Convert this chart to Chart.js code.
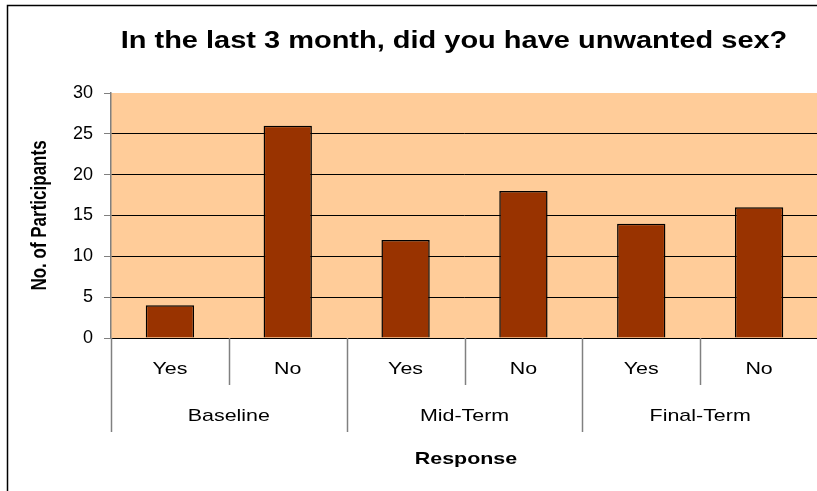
<!DOCTYPE html>
<html>
<head>
<meta charset="utf-8">
<script src="https://cdn.jsdelivr.net/npm/chart.js@4/dist/chart.umd.min.js"></script>
<style>
  html, body { margin: 0; padding: 0; background: #fff; overflow: hidden; }
  #wrap { position: absolute; left: 0; top: 0; width: 817px; height: 491px; overflow: hidden; }
  canvas { position: absolute; left: 0; top: 0; }
</style>
</head>
<body>
<div id="wrap"><canvas id="unwantedChart" width="820" height="491"></canvas></div>
<script>
    // Data
    const groups = ['Baseline', 'Mid-Term', 'Final-Term'];
    const responses = ['Yes', 'No'];
    const participants = [4, 26, 12, 18, 14, 16];
    const yTicks = [0, 5, 10, 15, 20, 25, 30];

    const titleText = 'In the last 3 month, did you have unwanted sex?';
    const yTitle = 'No. of Participants';
    const xTitle = 'Response';

    const labels = [];
    groups.forEach(g => responses.forEach(r => labels.push([r, g])));

    const FONT = '"Liberation Sans", Arial, sans-serif';
    const SX = 1.26; // the original text is a bit wider than tall

    function wideText(ctx, text, x, y) {
        ctx.save();
        ctx.translate(x, y);
        ctx.scale(SX, 1);
        ctx.fillText(text, 0, 0);
        ctx.restore();
    }

    // plot background, border, multi-level axis, titles
    const decorPlugin = {
        id: 'decor',
        beforeDraw(chart) {
            const { ctx, chartArea } = chart;
            ctx.save();
            ctx.fillStyle = '#FFCC99';
            ctx.fillRect(chartArea.left, chartArea.top, chartArea.right - chartArea.left, chartArea.bottom - chartArea.top);
            ctx.restore();
        },
        afterDraw(chart) {
            const { ctx, chartArea } = chart;
            const x = chart.scales.x;
            const bottom = chartArea.bottom;
            ctx.save();

            // outer chart border
            ctx.strokeStyle = '#000';
            ctx.lineWidth = 1.5;
            ctx.strokeRect(7.5, 5.5, 900, 500);

            // category separators
            ctx.strokeStyle = '#808080';
            ctx.lineWidth = 1.5;
            const n = labels.length;
            const step = x.getPixelForValue(1) - x.getPixelForValue(0);
            for (let i = 0; i <= n; i++) {
                const px = Math.round(x.getPixelForValue(i) - step / 2) + 0.5;
                const isGroup = i % responses.length === 0;
                ctx.beginPath();
                ctx.moveTo(px, bottom);
                ctx.lineTo(px, isGroup ? bottom + 94 : bottom + 47);
                ctx.stroke();
            }

            // category labels
            ctx.fillStyle = '#000';
            ctx.textAlign = 'center';
            ctx.textBaseline = 'middle';
            ctx.font = '17px ' + FONT;
            labels.forEach((l, i) => {
                wideText(ctx, l[0], x.getPixelForValue(i), bottom + 31);
            });
            groups.forEach((g, gi) => {
                const a = x.getPixelForValue(gi * responses.length);
                const b = x.getPixelForValue(gi * responses.length + responses.length - 1);
                wideText(ctx, g, (a + b) / 2, bottom + 78);
            });

            // axis titles
            ctx.font = 'bold 17px ' + FONT;
            wideText(ctx, xTitle, 466, bottom + 121);
            ctx.save();
            ctx.translate(40, (chartArea.top + chartArea.bottom) / 2);
            ctx.rotate(-Math.PI / 2);
            ctx.scale(1, SX);
            ctx.fillText(yTitle, 0, 0);
            ctx.restore();

            // chart title
            ctx.font = 'bold 23px ' + FONT;
            wideText(ctx, titleText, 454, 42);

            ctx.restore();
        }
    };

    const config = {
        type: 'bar',
        data: {
            labels: labels,
            datasets: [{
                label: 'No. of Participants',
                data: participants,
                backgroundColor: '#993300',
                borderColor: '#000',
                borderWidth: 1.5,
                categoryPercentage: 1.0,
                barPercentage: 0.41
            }]
        },
        options: {
            responsive: false,
            animation: false,
            layout: { padding: { top: 93, bottom: 153, left: 0, right: 2 } },
            plugins: {
                legend: { display: false },
                title: { display: false },
                tooltip: { enabled: false }
            },
            scales: {
                x: { display: false },
                y: {
                    min: 0,
                    max: 30,
                    afterFit(scale) { scale.width = 111; },
                    afterBuildTicks(scale) { scale.ticks = yTicks.map(v => ({ value: v })); },
                    border: { display: true, color: '#808080', width: 1.5 },
                    grid: {
                        color: c => (c.tick && c.tick.value === 30) ? 'rgba(0,0,0,0)' : '#000',
                        lineWidth: 1,
                        tickColor: '#808080',
                        tickLength: 7
                    },
                    ticks: {
                        color: '#000',
                        padding: 11,
                        font: { family: FONT, size: 18 }
                    }
                }
            }
        },
        plugins: [decorPlugin]
    };

    const ctx = document.getElementById('unwantedChart').getContext('2d');
    const unwantedChart = new Chart(ctx, config);
</script>
</body>
</html>
